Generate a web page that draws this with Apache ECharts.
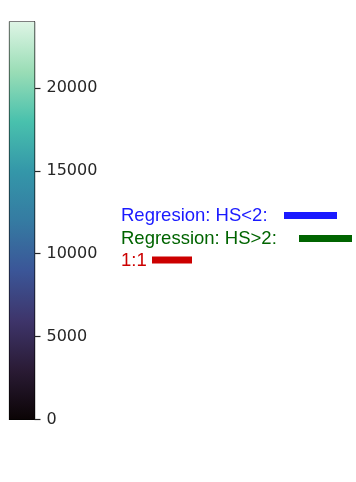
<!DOCTYPE html>
<html>
<head>
<meta charset="utf-8">
<script src="https://cdn.jsdelivr.net/npm/echarts@6/dist/echarts.min.js"></script>
<style>html,body{margin:0;padding:0;background:#fff;}#c{width:356px;height:482px;}</style>
</head>
<body>
<div id="c"></div>
<script>
// Colorbar range and ticks
var cbMin = 0;
var cbMax = 23970;
var tickValues = [0, 5000, 10000, 15000, 20000];
// mako colormap samples (position, color)
var cmapPos = [0, 0.125, 0.25, 0.375, 0.5, 0.625, 0.75, 0.875, 1];
var cmapColors = ['#0B0405', '#2A1B35', '#3E356B', '#3B5698', '#357BA2', '#3497A9', '#49C1AD', '#9ADDB6', '#DEF5E5'];
// Legend annotation texts
var legendLabels = ['Regresion: HS<2:', 'Regression: HS>2:', '1:1'];
var legendColors = ['#1a1aff', '#006400', '#cc0000'];

var chart = echarts.init(document.getElementById('c'), null, {renderer: 'canvas'});
var stops = cmapPos.map(function (p, i) { return {offset: p, color: cmapColors[i]}; });

var gTop = 22, gLeft = 9.5, gW = 25, gH = 397.5;
var txtFont = '"Liberation Sans", Arial, sans-serif';
var rows = [
  {y: 216, x: 121, bx: 284, bw: 53},
  {y: 239, x: 121, bx: 299, bw: 53},
  {y: 260.5, x: 121, bx: 152, bw: 40}
];
var graphics = [];
rows.forEach(function (r, i) {
  graphics.push({
    type: 'text', x: r.x, y: r.y,
    style: {text: legendLabels[i], fill: legendColors[i], font: '18.5px ' + txtFont, textVerticalAlign: 'middle', textAlign: 'left'}
  });
  graphics.push({
    type: 'rect', shape: {x: r.bx, y: r.y - 4, width: r.bw, height: 7},
    style: {fill: legendColors[i]}
  });
});

chart.setOption({
  animation: false,
  grid: {left: gLeft, top: gTop, width: gW, height: gH, show: true, borderColor: '#000', borderWidth: 1.2, backgroundColor: 'transparent'},
  xAxis: {type: 'category', data: ['cb'], show: false},
  yAxis: {
    type: 'value', position: 'right', min: cbMin, max: cbMax, interval: 5000,
    axisLine: {show: true, lineStyle: {color: '#000', width: 1.2}},
    axisTick: {show: true, length: 6, lineStyle: {color: '#262626', width: 1.2}},
    axisLabel: {show: true, margin: 12, color: '#262626', fontFamily: '"DejaVu Sans", sans-serif', fontSize: 16,
      showMaxLabel: false, formatter: function (v) { return String(v); }},
    splitLine: {show: false}
  },
  series: [{
    type: 'bar', data: [cbMax], barWidth: '100%', barGap: 0,
    itemStyle: {color: new echarts.graphic.LinearGradient(0, 1, 0, 0, stops)},
    silent: true
  }],
  graphic: graphics
});
</script>
</body>
</html>
